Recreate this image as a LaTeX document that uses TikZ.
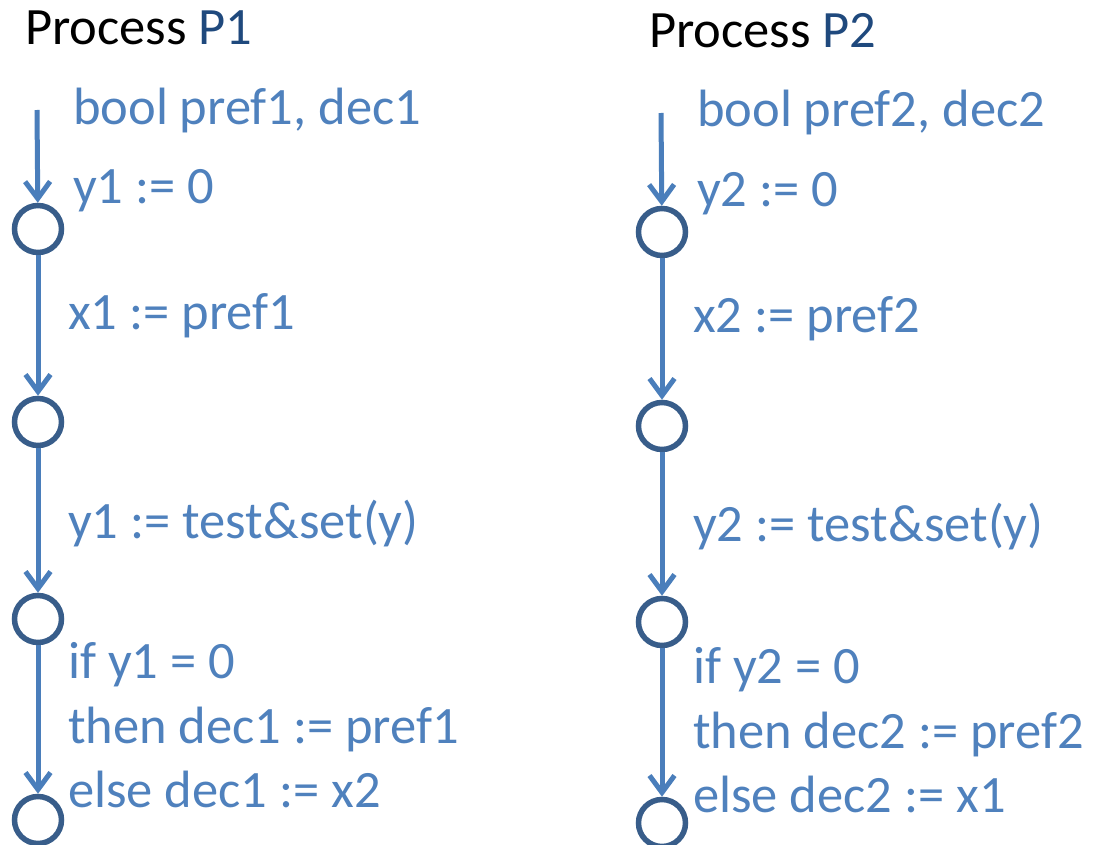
\documentclass[tikz,border=0pt]{standalone}
\usepackage{fontspec}
\setmainfont{Carlito}
\usetikzlibrary{arrows.meta}
\definecolor{txtblue}{HTML}{4F81BD}
\definecolor{arrblue}{HTML}{4A7EBB}
\definecolor{ringblue}{HTML}{385D8A}
\definecolor{darkblue}{HTML}{1F497D}
\begin{document}
\begin{tikzpicture}[x=1pt,y=-1pt,
  state/.style={circle,draw=ringblue,line width=5.5pt,minimum size=47pt,inner sep=0pt},
  lbl/.style={anchor=base west,inner sep=0pt,text=txtblue,font=\fontsize{52.5}{63}\selectfont},
  title/.style={anchor=base west,inner sep=0pt,text=black,font=\fontsize{52.5}{63}\selectfont},
  trans/.style={draw=arrblue,line width=5pt,-{Straight Barb[length=17pt,width=25pt,line width=5pt]}}]
\useasboundingbox (0,0) rectangle (1093,845);

% Process P1
\node[title] (t1) at (25,45) {Process \textcolor{darkblue}{P1}};
\coordinate (in1) at (37,110);
\node[state] (a1) at (38,229) {};
\node[state] (a2) at (38,422) {};
\node[state] (a3) at (38,619) {};
\node[state] (a4) at (38,820) {};
\draw[trans] (in1) -- (a1);
\draw[trans] (a1) -- (a2);
\draw[trans] (a2) -- (a3);
\draw[trans] (a3) -- (a4);
\node[lbl] (d1) at (73,125) {bool pref1, dec1};
\node[lbl] (i1) at (73,204) {y1 := 0};
\node[lbl] (s1) at (68,329) {x1 := pref1};
\node[lbl] (r1) at (68,538) {y1 := test\&set(y)};
\node[lbl] (c1a) at (68,678) {if y1 = 0};
\node[lbl] (c1b) at (68,743) {then dec1 := pref1};
\node[lbl] (c1c) at (68,807) {else dec1 := x2};

% Process P2
\node[title] (t2) at (649,48) {Process \textcolor{darkblue}{P2}};
\coordinate (in2) at (661,113);
\node[state] (b1) at (662,232) {};
\node[state] (b2) at (662,426) {};
\node[state] (b3) at (662,622) {};
\node[state] (b4) at (662,823) {};
\draw[trans] (in2) -- (b1);
\draw[trans] (b1) -- (b2);
\draw[trans] (b2) -- (b3);
\draw[trans] (b3) -- (b4);
\node[lbl] (d2) at (697,127) {bool pref2, dec2};
\node[lbl] (i2) at (697,207) {y2 := 0};
\node[lbl] (s2) at (693,332) {x2 := pref2};
\node[lbl] (r2) at (693,541) {y2 := test\&set(y)};
\node[lbl] (c2a) at (693,683) {if y2 = 0};
\node[lbl] (c2b) at (693,748) {then dec2 := pref2};
\node[lbl] (c2c) at (693,812) {else dec2 := x1};
\end{tikzpicture}
\end{document}
